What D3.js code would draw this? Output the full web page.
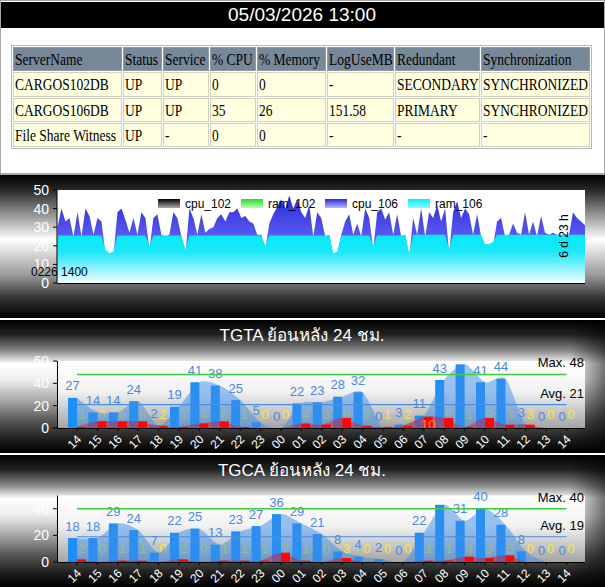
<!DOCTYPE html>
<html>
<head>
<meta charset="utf-8">
<script src="https://cdn.jsdelivr.net/npm/d3@7"></script>
<style>
  body { margin: 0; background: #fff; }
  svg { display: block; font-family: "Liberation Sans", Arial, sans-serif; }
</style>
</head>
<body>
<svg id="page" width="605" height="587"></svg>
<script>
// ---- data ----
const reportTime = '05/03/2026 13:00';
const tableCols = ['ServerName', 'Status', 'Service', '% CPU', '% Memory', 'LogUseMB', 'Redundant', 'Synchronization'];
const tableRows = [
  ['CARGOS102DB', 'UP', 'UP', '0', '0', '-', 'SECONDARY', 'SYNCHRONIZED'],
  ['CARGOS106DB', 'UP', 'UP', '35', '26', '151.58', 'PRIMARY', 'SYNCHRONIZED'],
  ['File Share Witness', 'UP', '-', '0', '0', '-', '-', '-']
];

const trendStart = '0226 1400';
const trendSpan = '6 d 23 h';
const trendLegend = ['cpu_102', 'ram_102', 'cpu_106', 'ram_106'];
const trendTicks = [0, 10, 20, 30, 40, 50];
const cpu106 = [
  30,40,33,35,25,38,25,40,36,26,
  35,33,16,14,15,38,40,34,27,35,
  26,38,35,18,35,37,26,25,26,38,
  35,25,15,40,35,26,37,27,29,30,
  35,37,33,38,38,40,35,36,33,32,
  26,26,18,32,37,41,45,40,47,40,
  45,38,35,42,25,38,35,25,26,14,
  15,26,33,37,26,32,25,40,35,18,
  38,40,34,38,26,37,25,26,14,35,
  26,40,25,38,35,42,33,40,16,38,
  44,35,40,37,26,37,25,19,19,20,
  33,35,25,26,32,27,26,38,26,33,
  25,36,27,26,27,26,26,26,26,38,
  35,33,31
];
const ram106 = [
  25.5,25.5,25.5,25.5,25.5,25.5,25.5,25.5,25.5,25.5,
  25.5,25.5,18,16,17,25.5,25.5,25.5,25.5,25.5,
  25.5,25.5,25.5,20,25.5,25.5,25.5,25.5,25.5,25.5,
  25.5,25.5,18,25.5,25.5,25.5,25.5,25.5,25.5,25.5,
  25.5,25.5,25.5,25.5,25.5,25.5,25.5,25.5,25.5,25.5,
  25.5,25.5,20,25.5,25.5,25.5,25.5,25.5,25.5,25.5,
  25.5,25.5,25.5,25.5,25.5,25.5,25.5,25.5,25.5,16,
  17,25.5,25.5,25.5,25.5,25.5,25.5,25.5,25.5,20,
  25.5,25.5,25.5,25.5,25.5,25.5,25.5,26,16,26,
  26,26,26,26,26,26,26,26,18,26,
  26,26,26,26,26,26,26,21,21,22,
  26,26,26,26,26,26,26,26,26,26,
  26,26,26,26,26,26,26,26,26,26,
  26,26,26
];

const hours = ['14','15','16','17','18','19','20','21','22','23','00','01','02','03','04','05','06','07','08','09','10','11','12','13','14'];

const tgtaTitle = 'TGTA ย้อนหลัง 24 ชม.';
const tgtaBlue = [27,14,14,24,2,19,41,38,25,5,0,22,23,28,32,0,3,11,43,57,41,44,3,0,0];
const tgtaRed  = [1,6,6,6,2,1,4,6,1,0,0,4,3,9,2,1,2,10,9,1,9,3,3,0,0];
const tgtaMax = 48, tgtaAvg = 21;
const tgtaTicks = [0, 20, 40, 60];

const tgcaTitle = 'TGCA ย้อนหลัง 24 ชม.';
const tgcaBlue = [18,18,29,24,7,22,25,13,23,27,36,29,21,8,4,2,0,22,43,31,40,28,8,0,0];
const tgcaRed  = [2,0,1,1,0,2,0,1,1,1,7,1,0,3,0,0,0,1,1,4,3,5,0,0,0];
const tgcaMax = 40, tgcaAvg = 19;
const tgcaTicks = [0, 20, 40];

// ---- drawing ----
const W = 605, H = 587;
const svg = d3.select('#page');
const defs = svg.append('defs');

function vGrad(id, y1, y2, stops) {
  const g = defs.append('linearGradient').attr('id', id)
    .attr('gradientUnits', 'userSpaceOnUse')
    .attr('x1', 0).attr('x2', 0).attr('y1', y1).attr('y2', y2);
  stops.forEach(s => g.append('stop').attr('offset', s[0]).attr('stop-color', s[1]));
}

// header
svg.append('rect').attr('x', 0).attr('y', 0).attr('width', W).attr('height', 174)
  .attr('fill', '#fff').attr('stroke', '#8a8a8a').attr('stroke-width', 1.5);
svg.append('rect').attr('x', 1).attr('y', 2).attr('width', W - 2).attr('height', 26).attr('fill', '#000');
svg.append('text').attr('x', 302).attr('y', 21).attr('text-anchor', 'middle')
  .attr('fill', '#fff').attr('font-size', 19).text(reportTime);

// status table
const colX = [12, 122, 162, 209, 256, 326, 394, 480, 590];
const rowY = [46, 71, 97, 122, 147];
const tbl = svg.append('g').attr('font-family', '"Liberation Serif", "Times New Roman", serif');
tbl.append('rect').attr('x', 11.5).attr('y', 45.5).attr('width', 580).attr('height', 103)
  .attr('fill', '#fff').attr('stroke', '#b8b8b8');
[tableCols].concat(tableRows).forEach((row, r) => {
  row.forEach((cell, c) => {
    tbl.append('rect')
      .attr('x', colX[c] + 1.5).attr('y', rowY[r] + 1.5)
      .attr('width', colX[c + 1] - colX[c] - 2).attr('height', rowY[r + 1] - rowY[r] - 2)
      .attr('fill', r === 0 ? '#778899' : '#ffffe0')
      .attr('stroke', r === 0 ? '#8d9aa8' : '#d0d0c0').attr('stroke-width', 1);
    tbl.append('text')
      .attr('transform', `translate(${colX[c] + 3},${rowY[r] + 19}) scale(1,1.3)`)
      .attr('font-size', 13.5).attr('fill', '#000').text(cell);
  });
});

// ---------- trend chart ----------
const p1 = { top: 175, bottom: 318, x0: 57, x1: 585, y0: 283, y1: 190 };
vGrad('bg1', p1.top, p1.bottom, [[0, '#000'], [0.1, '#262626'], [0.45, '#fff'], [0.7, '#9a9a9a'], [0.86, '#333'], [1, '#000']]);
svg.append('rect').attr('x', 0).attr('y', p1.top).attr('width', W).attr('height', p1.bottom - p1.top).attr('fill', 'url(#bg1)');
svg.append('rect').attr('x', p1.x0).attr('y', p1.y1).attr('width', p1.x1 - p1.x0).attr('height', p1.y0 - p1.y1).attr('fill', '#fff');

const tx = d3.scaleLinear().domain([0, cpu106.length - 1]).range([p1.x0 + 0.5, p1.x1]);
const ty = d3.scaleLinear().domain([0, 50]).range([p1.y0, p1.y1]);

vGrad('cpuFill', p1.y1, p1.y0, [[0, '#2424d8'], [0.5, '#5a5af0'], [1, '#c8c8ff']]);
vGrad('ramFill', ty(26), p1.y0, [[0, '#08e8f8'], [0.35, '#1ae8f8'], [0.75, '#9ef4fc'], [1, '#f4ffff']]);

const trendArea = d3.area().x((d, i) => tx(i)).y0(ty(0)).y1(d => ty(d));
svg.append('path').datum(cpu106).attr('d', trendArea).attr('fill', 'url(#cpuFill)');
svg.append('path').datum(ram106).attr('d', trendArea).attr('fill', 'url(#ramFill)');

// legend
const legFills = [['#000', '#aaa'], ['#22dd22', '#b8ffb8'], ['#2a2ad8', '#b8b8ff'], ['#00f0ff', '#8ff8ff']];
const legX = [158, 241, 325, 408];
trendLegend.forEach((name, i) => {
  vGrad('leg' + i, 199, 208, [[0, legFills[i][0]], [1, legFills[i][1]]]);
  svg.append('rect').attr('x', legX[i]).attr('y', 199).attr('width', 22).attr('height', 9).attr('fill', `url(#leg${i})`);
  svg.append('text').attr('x', legX[i] + 27).attr('y', 207.5).attr('font-size', 12).attr('fill', '#000').text(name);
});

// axes
const ax1 = svg.append('g');
ax1.append('line').attr('x1', p1.x0).attr('x2', p1.x0).attr('y1', p1.y1).attr('y2', p1.y0).attr('stroke', '#000');
ax1.append('line').attr('x1', p1.x0).attr('x2', p1.x1).attr('y1', p1.y0 + 0.5).attr('y2', p1.y0 + 0.5).attr('stroke', '#000');
trendTicks.forEach(t => {
  ax1.append('line').attr('x1', p1.x0 - 4).attr('x2', p1.x0).attr('y1', ty(t)).attr('y2', ty(t)).attr('stroke', '#000');
  ax1.append('text').attr('x', 49).attr('y', ty(t)).attr('dy', '0.36em').attr('text-anchor', 'end')
    .attr('font-size', 14).attr('fill', '#fff').text(t);
});
svg.append('text').attr('x', 31).attr('y', 276).attr('font-size', 12).attr('fill', '#000').text(trendStart);
svg.append('text').attr('transform', 'translate(568,236) rotate(-90)').attr('text-anchor', 'middle')
  .attr('font-size', 12).attr('fill', '#000').text(trendSpan);

// ---------- hourly panels ----------
const xc = d3.scalePoint().domain(d3.range(hours.length)).range([77, 566.6]);

function drawPanel(o) {
  const id = o.id;
  vGrad(id + 'bg', o.top, o.bottom, [[0, '#000'], [0.11, '#222'], [0.23, '#888'], [0.33, '#fff'], [0.45, '#eee'], [0.6, '#aaa'], [0.76, '#555'], [0.9, '#1c1c1c'], [1, '#000']]);
  svg.append('rect').attr('x', 0).attr('y', o.top).attr('width', W).attr('height', o.bottom - o.top).attr('fill', `url(#${id}bg)`);
  const side = defs.append('linearGradient').attr('id', id + 'side')
    .attr('gradientUnits', 'userSpaceOnUse').attr('x1', 570).attr('x2', W).attr('y1', 0).attr('y2', 0);
  side.append('stop').attr('offset', 0).attr('stop-color', '#000').attr('stop-opacity', 0);
  side.append('stop').attr('offset', 1).attr('stop-color', '#000').attr('stop-opacity', 0.55);
  svg.append('rect').attr('x', 570).attr('y', o.top).attr('width', W - 570).attr('height', o.bottom - o.top).attr('fill', `url(#${id}side)`);

  const y = d3.scaleLinear().domain([0, o.ymax]).range([o.y0, o.y1]);
  const plotTop = y(o.ymax);

  vGrad(id + 'plot', plotTop, o.y0, [[0, '#fff'], [0.45, '#f2f2f2'], [1, '#a4a4a4']]);
  svg.append('rect').attr('x', 57).attr('y', plotTop).attr('width', 528).attr('height', o.y0 - plotTop).attr('fill', `url(#${id}plot)`);

  defs.append('clipPath').attr('id', id + 'clip')
    .append('rect').attr('x', 57).attr('y', plotTop - 30).attr('width', 528).attr('height', o.y0 - plotTop + 30);

  svg.append('text').attr('x', 302).attr('y', o.top + 21).attr('text-anchor', 'middle')
    .attr('font-size', 17).attr('fill', '#fff').text(o.title);

  const g = svg.append('g');
  const spline = d3.area().curve(d3.curveCardinal.tension(0.2))
    .x((d, i) => xc(i)).y0(y(0)).y1(d => y(d));
  const redLabelY = d => d >= 10 ? y(0) - 4 : y(0) - 14;

  // blue bars + labels sit under the translucent blue spline
  g.selectAll('.b').data(o.blue).enter().append('rect')
    .attr('x', (d, i) => xc(i) - 9).attr('width', 9)
    .attr('y', d => y(d)).attr('height', d => y(0) - y(d)).attr('fill', '#1e8ef8');
  o.blue.forEach((d, i) => {
    if (i === o.hide) return;
    g.append('text').attr('x', xc(i) - 4.5).attr('y', y(d) - 12).attr('dy', '0.35em')
      .attr('text-anchor', 'middle').attr('font-size', 13).attr('fill', '#4c88dc').text(d);
  });
  o.red.forEach((d, i) => {
    if (d >= 10) return;
    g.append('text').attr('x', xc(i) + 4.5).attr('y', redLabelY(d)).attr('dy', '0.35em')
      .attr('text-anchor', 'middle').attr('font-size', 13).attr('fill', '#f4e650').text(d);
  });
  g.append('path').datum(o.blue).attr('d', spline).attr('clip-path', `url(#${id}clip)`)
    .attr('fill', '#3a8ee8').attr('fill-opacity', 0.5);

  // red bars, then red spline on top
  g.selectAll('.r').data(o.red).enter().append('rect')
    .attr('x', (d, i) => xc(i)).attr('width', 9)
    .attr('y', d => y(d)).attr('height', d => y(0) - y(d)).attr('fill', '#ff0a0a');
  o.red.forEach((d, i) => {
    if (d < 10) return;
    g.append('text').attr('x', xc(i) + 4.5).attr('y', redLabelY(d)).attr('dy', '0.35em')
      .attr('text-anchor', 'middle').attr('font-size', 13).attr('fill', '#f4e650').text(d);
  });
  g.append('path').datum(o.red).attr('d', spline).attr('clip-path', `url(#${id}clip)`)
    .attr('fill', '#ff0000').attr('fill-opacity', 0.4);

  // max / avg lines
  const xa = xc(0), xb = xc(hours.length - 1);
  g.append('line').attr('x1', xa).attr('x2', xb).attr('y1', y(o.max)).attr('y2', y(o.max))
    .attr('stroke', '#3ccf3c').attr('stroke-width', 1.5);
  g.append('line').attr('x1', xa).attr('x2', xb).attr('y1', y(o.avg)).attr('y2', y(o.avg))
    .attr('stroke', '#4a8ee0').attr('stroke-width', 1.2);
  g.append('text').attr('x', 584).attr('y', y(o.max) - 7).attr('text-anchor', 'end')
    .attr('font-size', 13).attr('fill', '#000').text('Max. ' + o.max);
  g.append('text').attr('x', 584).attr('y', y(o.avg) - 7).attr('text-anchor', 'end')
    .attr('font-size', 13).attr('fill', '#000').text('Avg. ' + o.avg);

  // axes
  g.append('line').attr('x1', 57.5).attr('x2', 57.5).attr('y1', plotTop).attr('y2', y(0)).attr('stroke', '#000');
  g.append('line').attr('x1', 57).attr('x2', 585).attr('y1', y(0) + 0.5).attr('y2', y(0) + 0.5).attr('stroke', '#000');
  o.ticks.forEach(t => {
    g.append('line').attr('x1', 53).attr('x2', 57).attr('y1', y(t)).attr('y2', y(t)).attr('stroke', '#000');
    g.append('text').attr('x', 49).attr('y', y(t)).attr('dy', '0.36em').attr('text-anchor', 'end')
      .attr('font-size', 14).attr('fill', '#fff').text(t);
  });
  hours.forEach((h, i) => {
    g.append('line').attr('x1', xc(i)).attr('x2', xc(i)).attr('y1', y(0)).attr('y2', y(0) + 3).attr('stroke', '#000');
    g.append('text').attr('transform', `translate(${xc(i) + 2},${y(0) + 9}) rotate(-45)`)
      .attr('text-anchor', 'end').attr('dy', '0.35em').attr('font-size', 12).attr('fill', '#fff').text(h);
  });
}

drawPanel({ id: 'tgta', title: tgtaTitle, top: 320, bottom: 453, y0: 428, y1: 361, ymax: 60,
  ticks: tgtaTicks, blue: tgtaBlue, red: tgtaRed, max: tgtaMax, avg: tgtaAvg, hide: 19 });
drawPanel({ id: 'tgca', title: tgcaTitle, top: 455, bottom: 587, y0: 562, y1: 495.5, ymax: 50,
  ticks: tgcaTicks, blue: tgcaBlue, red: tgcaRed, max: tgcaMax, avg: tgcaAvg, hide: 18 });
</script>
</body>
</html>
